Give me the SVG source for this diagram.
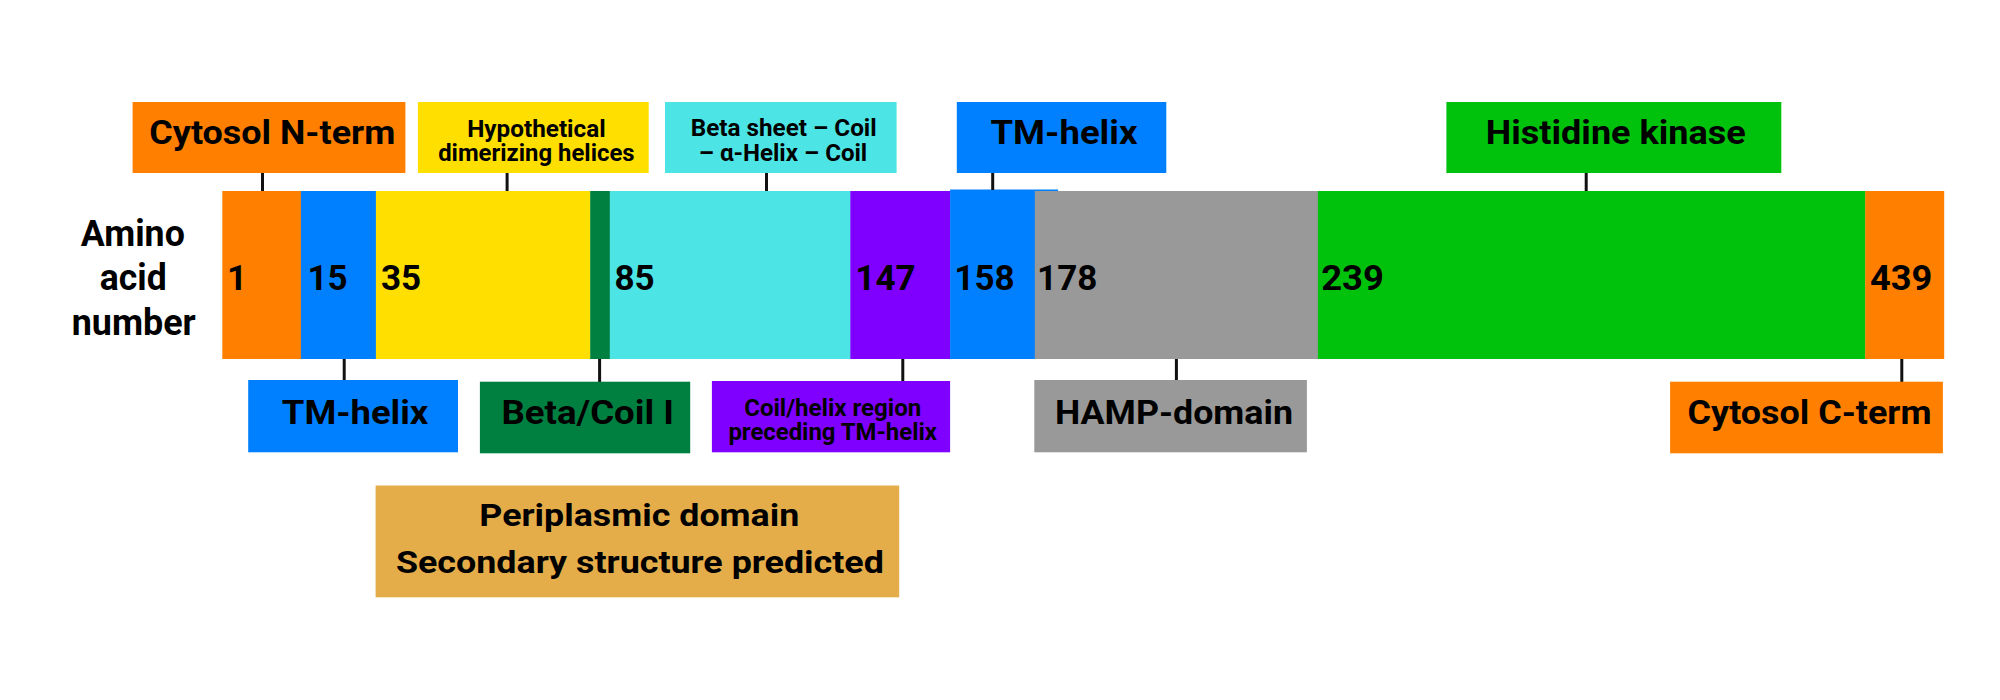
<svg xmlns="http://www.w3.org/2000/svg" width="2000" height="700" viewBox="0 0 2000 700">
<style>
text{font-family:Roboto,"Liberation Sans",sans-serif;font-weight:bold;fill:#000}
.big{font-size:34px}
.num{font-size:35px}
.small{font-size:23.5px}
.side{font-size:36px;text-anchor:middle}
.c{text-anchor:middle}
.peri{font-size:32px;text-anchor:middle}
.conn line{stroke:#111;stroke-width:3}
</style>
<rect width="2000" height="700" fill="#fff"/>
<g id="axis-label">
<text class="side" x="132.8" y="246" textLength="104" lengthAdjust="spacingAndGlyphs">Amino</text>
<text class="side" x="133.3" y="290" textLength="67" lengthAdjust="spacingAndGlyphs">acid</text>
<text class="side" x="133.7" y="335" textLength="124" lengthAdjust="spacingAndGlyphs">number</text>
</g>
<g id="bar">
<rect x="222.3" y="191" width="79" height="168" fill="#ff8000"/>
<rect x="300.9" y="191" width="75.3" height="168" fill="#0080ff"/>
<rect x="375.9" y="191" width="214.6" height="168" fill="#ffdf00"/>
<rect x="590.2" y="191" width="19.8" height="168" fill="#008040"/>
<rect x="609.8" y="191" width="240.8" height="168" fill="#4ce4e4"/>
<rect x="850.3" y="191" width="100" height="168" fill="#8000ff"/>
<rect x="950.1" y="191" width="85" height="168" fill="#0080ff"/>
<rect x="950.1" y="189.5" width="108" height="2" fill="#0080ff"/>
<rect x="1034.8" y="191" width="283.4" height="168" fill="#999999"/>
<rect x="1317.9" y="191" width="547.6" height="168" fill="#00c20c"/>
<rect x="1865.2" y="191" width="79" height="168" fill="#ff8000"/>
<text class="num" x="227" y="289.5">1</text>
<text class="num" x="307.5" y="289.5">15</text>
<text class="num" x="381" y="289.5">35</text>
<text class="num" x="614.5" y="289.5">85</text>
<text class="num" x="855.3" y="289.5">147</text>
<text class="num" x="954.3" y="289.5">158</text>
<text class="num" x="1037.1" y="289.5">178</text>
<text class="num" x="1321.2" y="289.5" textLength="62.7" lengthAdjust="spacingAndGlyphs">239</text>
<text class="num" x="1869.9" y="289.5" textLength="62.3" lengthAdjust="spacingAndGlyphs">439</text>
</g>
<g class="conn" id="connectors">
<line x1="262.5" y1="173" x2="262.5" y2="191"/>
<line x1="507.1" y1="173" x2="507.1" y2="191"/>
<line x1="766.5" y1="173" x2="766.5" y2="191"/>
<line x1="992.7" y1="173" x2="992.7" y2="190"/>
<line x1="1586.2" y1="173" x2="1586.2" y2="191"/>
<line x1="344.2" y1="359" x2="344.2" y2="380"/>
<line x1="599.6" y1="359" x2="599.6" y2="382"/>
<line x1="902.8" y1="359" x2="902.8" y2="381"/>
<line x1="1176.4" y1="359" x2="1176.4" y2="380"/>
<line x1="1901.8" y1="359" x2="1901.8" y2="382"/>
</g>
<g id="cytosol-n-term">
<rect x="132.6" y="102" width="272.8" height="71" fill="#ff8000"/>
<text class="big c" x="272.3" y="144.3" textLength="246" lengthAdjust="spacingAndGlyphs">Cytosol N-term</text>
</g>
<g id="hypothetical">
<rect x="417.9" y="102" width="230.8" height="71" fill="#ffdf00"/>
<text class="small c" x="536.4" y="136.7" textLength="138.5" lengthAdjust="spacingAndGlyphs">Hypothetical</text>
<text class="small c" x="536.4" y="161" textLength="196.5" lengthAdjust="spacingAndGlyphs">dimerizing helices</text>
</g>
<g id="beta-sheet">
<rect x="665" y="102" width="231.6" height="71" fill="#4ce4e4"/>
<text class="small c" x="783.7" y="136.3" textLength="186" lengthAdjust="spacingAndGlyphs">Beta sheet – Coil</text>
<text class="small c" x="783" y="161" textLength="168.5" lengthAdjust="spacingAndGlyphs">– α-Helix – Coil</text>
</g>
<g id="tm-helix-top">
<rect x="956.8" y="102" width="209.5" height="71" fill="#0080ff"/>
<text class="big c" x="1064" y="144.3" textLength="147" lengthAdjust="spacingAndGlyphs">TM-helix</text>
</g>
<g id="histidine-kinase">
<rect x="1446.4" y="102" width="334.9" height="71" fill="#00c20c"/>
<text class="big c" x="1615.8" y="144.3" textLength="260" lengthAdjust="spacingAndGlyphs">Histidine kinase</text>
</g>
<g id="tm-helix-bottom">
<rect x="248.2" y="380" width="209.8" height="72.3" fill="#0080ff"/>
<text class="big c" x="355.1" y="424.3" textLength="146.5" lengthAdjust="spacingAndGlyphs">TM-helix</text>
</g>
<g id="beta-coil">
<rect x="479.9" y="381.7" width="210.3" height="71.6" fill="#008040"/>
<text class="big c" x="587.7" y="424.3" textLength="172.5" lengthAdjust="spacingAndGlyphs">Beta/Coil I</text>
</g>
<g id="coil-helix">
<rect x="711.9" y="381" width="238.2" height="71.3" fill="#8000ff"/>
<text class="small c" x="832.7" y="416" textLength="177" lengthAdjust="spacingAndGlyphs">Coil/helix region</text>
<text class="small c" x="832.7" y="440" textLength="208.5" lengthAdjust="spacingAndGlyphs">preceding TM-helix</text>
</g>
<g id="hamp-domain">
<rect x="1034.3" y="380" width="272.6" height="72.3" fill="#999999"/>
<text class="big c" x="1174" y="424.3" textLength="238" lengthAdjust="spacingAndGlyphs">HAMP-domain</text>
</g>
<g id="cytosol-c-term">
<rect x="1670.1" y="381.7" width="272.8" height="71.6" fill="#ff8000"/>
<text class="big c" x="1809.6" y="424.3" textLength="244" lengthAdjust="spacingAndGlyphs">Cytosol C-term</text>
</g>
<g id="periplasmic">
<rect x="375.6" y="485.5" width="523.6" height="111.8" fill="#e5ad4a"/>
<text class="peri" x="639.3" y="526" textLength="320" lengthAdjust="spacingAndGlyphs">Periplasmic domain</text>
<text class="peri" x="639.9" y="573.3" textLength="488" lengthAdjust="spacingAndGlyphs">Secondary structure predicted</text>
</g>
</svg>
